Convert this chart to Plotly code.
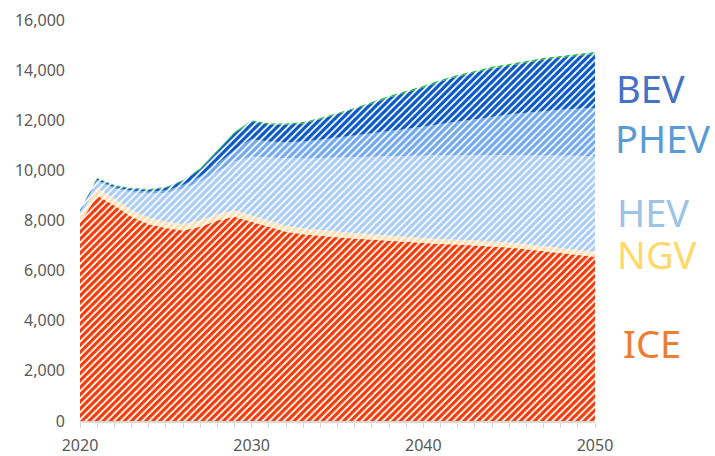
import plotly.graph_objects as go

years = list(range(2020, 2051))
ice = [7900, 9000, 8600, 8150, 7850, 7700, 7600, 7750, 8000, 8150, 7950, 7750, 7550, 7450, 7380,
       7330, 7280, 7230, 7180, 7130, 7080, 7060, 7040, 7000, 6960, 6920, 6850, 6780, 6700, 6620, 6550]
ngv = [300, 300, 280, 270, 260, 250, 250, 250, 250, 250, 250, 240, 240, 230, 230,
       220, 220, 220, 210, 210, 210, 200, 200, 200, 200, 200, 200, 200, 200, 200, 200]
hev = [130, 260, 390, 710, 960, 1150, 1430, 1550, 1700, 1950, 2350, 2510, 2690, 2790, 2870,
       2950, 3020, 3090, 3170, 3240, 3310, 3350, 3370, 3410, 3450, 3490, 3550, 3620, 3690, 3760, 3810]
phev = [40, 50, 60, 70, 80, 100, 140, 210, 300, 450, 700, 650, 640, 680, 740,
        800, 860, 920, 990, 1070, 1150, 1240, 1340, 1440, 1540, 1620, 1700, 1770, 1830, 1880, 1940]
bev = [40, 60, 60, 70, 80, 110, 170, 280, 510, 690, 700, 680, 700, 730, 820,
       940, 1060, 1210, 1360, 1460, 1560, 1700, 1800, 1860, 1910, 1940, 1990, 2040, 2070, 2110, 2150]
fcv = [10, 30, 30, 30, 30, 30, 30, 40, 40, 40, 50, 50, 50, 50, 50,
       50, 50, 60, 60, 60, 60, 60, 60, 60, 70, 70, 70, 70, 70, 70, 70]

series = [
    ("ICE", ice, "#F23A06"),
    ("NGV", ngv, "#FFE0B0"),
    ("HEV", hev, "#A9CCF7"),
    ("PHEV", phev, "#6FA8EE"),
    ("BEV", bev, "#0656C4"),
    ("FCV", fcv, "#1DB24C"),
]

fig = go.Figure()
for name, vals, col in series:
    fig.add_trace(go.Scatter(
        x=years, y=vals, name=name, mode="lines", stackgroup="one",
        line=dict(width=0, color=col),
        fillcolor="white",
        fillpattern=dict(shape="/", fgcolor=col, bgcolor="white", fgopacity=1,
                         size=5, solidity=0.65),
        hoverinfo="skip",
    ))

labels = [
    ("BEV", "#4472C4", 1.037, 0.830),
    ("PHEV", "#5B9BD5", 1.035, 0.706),
    ("HEV", "#9DC3E6", 1.039, 0.521),
    ("NGV", "#FFD966", 1.039, 0.417),
    ("ICE", "#ED7D31", 1.050, 0.195),
]
for txt, col, x, y in labels:
    fig.add_annotation(text=txt, xref="paper", yref="paper", x=x, y=y,
                       xanchor="left", yanchor="middle", showarrow=False,
                       font=dict(family="Noto Sans", size=38, color=col))

fig.update_layout(
    width=715, height=456,
    margin=dict(l=80, r=120, t=20, b=35, autoexpand=False),
    plot_bgcolor="white", paper_bgcolor="white",
    showlegend=False,
    font=dict(family="Noto Sans", size=16, color="#595959"),
)
fig.update_xaxes(
    range=[2020, 2050], tickvals=[2020, 2030, 2040, 2050],
    showgrid=False, zeroline=False, automargin=False,
    showline=True, linecolor="#D9D9D9", linewidth=2,
    ticks="outside", ticklen=5, tickcolor="#D9D9D9",
    ticklabelstandoff=4,
    minor=dict(dtick=1, ticks="outside", ticklen=5, tickcolor="#D9D9D9", showgrid=False),
    tickfont=dict(family="Noto Sans", size=16, color="#595959"),
)
fig.update_yaxes(
    range=[0, 16000], dtick=2000, tickformat=",d",
    showgrid=False, zeroline=False, showline=False, automargin=False,
    ticklabelstandoff=14,
    tickfont=dict(family="Noto Sans", size=16, color="#595959"),
)

fig.write_html("out.html", config={"displayModeBar": False},
               post_script="document.body.style.margin='0';")
